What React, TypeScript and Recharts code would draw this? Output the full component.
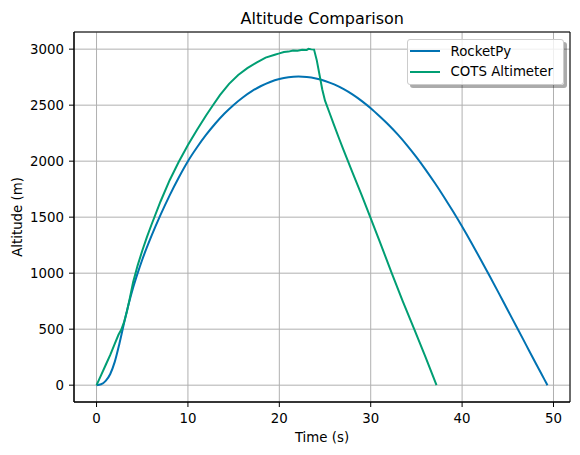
import { CartesianGrid, Legend, Line, LineChart, ReferenceArea, XAxis, YAxis } from "recharts";

// Simulated flight (RocketPy)
const rocketpyTime = [
  0, 0.5, 1, 1.5, 2, 2.5, 3, 3.5, 4, 4.5, 5, 6, 7, 8, 9, 10, 11, 12, 13, 14, 15, 16, 17, 18, 19, 20, 21,
  22.1, 23, 24, 25, 26, 27, 28, 29, 30, 31, 32, 33, 34, 35, 36, 37, 38, 39, 40, 41, 42, 43, 44, 45, 46,
  47, 48, 49, 49.34,
];
const rocketpyAltitude = [
  0, 8, 38, 100, 210, 370, 550, 720, 870, 1000, 1120, 1330, 1520, 1695, 1855, 2000, 2124, 2236, 2336,
  2425, 2502, 2569, 2625, 2671, 2707, 2733, 2749, 2755, 2751, 2738, 2716, 2685, 2645, 2596, 2538, 2472,
  2398, 2320, 2234, 2139, 2036, 1925, 1807, 1683, 1552, 1416, 1274, 1127, 977, 824, 669, 515, 360, 205,
  52, 0,
];

// Logged flight (COTS altimeter)
const cotsTime = [
  0, 0.5, 1, 1.5, 2, 2.4, 2.7, 3, 3.3, 3.6, 4, 4.5, 5, 5.5, 6, 7, 8, 9, 10, 11, 12, 12.7, 13.5, 14.5,
  15.5, 16.5, 17.5, 18.5, 19.5, 20, 20.5, 21, 21.5, 22, 22.5, 23, 23.2, 23.5, 23.8, 24.1, 24.4, 24.7, 25,
  25.5, 26, 26.55, 27, 28, 29, 29.95, 31, 32.3, 33.5, 34.76, 36, 37.2,
];
const cotsAltitude = [
  0, 90, 180, 270, 370, 450, 495, 560, 650, 760, 920, 1070, 1200, 1320, 1430, 1640, 1830, 1995, 2145,
  2280, 2410, 2495, 2590, 2690, 2770, 2830, 2880, 2925, 2950, 2962, 2975, 2978, 2988, 2985, 2995, 2993,
  3003, 2998, 2996, 2900, 2770, 2640, 2540, 2430, 2320, 2200, 2105, 1900, 1700, 1500, 1280, 1000, 750,
  500, 250, 0,
];

const seriesNames = ["RocketPy", "COTS Altimeter"];
const seriesColors = ["#0072B2", "#009E73"];

const xTicks = [0, 10, 20, 30, 40, 50];
const yTicks = [0, 500, 1000, 1500, 2000, 2500, 3000];

const FONT = "'DejaVu Sans', sans-serif";

const rocketpy = rocketpyTime.map((t, i) => ({ t, alt: rocketpyAltitude[i] }));
const cots = cotsTime.map((t, i) => ({ t, alt: cotsAltitude[i] }));

// 5% padding around the data range, matplotlib style
function padded(values: number[]): [number, number] {
  const lo = Math.min(...values);
  const hi = Math.max(...values);
  const m = (hi - lo) * 0.05;
  return [lo - m, hi + m];
}
const xDomain = padded([...rocketpyTime, ...cotsTime]);
const yDomain = padded([...rocketpyAltitude, ...cotsAltitude]);

const tickStyle = { fill: "#000", fontSize: 13.33, fontFamily: FONT };

function renderXLabel(props: any) {
  const { viewBox } = props;
  return (
    <text x={viewBox.x + viewBox.width / 2} y={viewBox.y + 40} textAnchor="middle" fill="#000"
      fontSize={13.33} fontFamily={FONT}>
      Time (s)
    </text>
  );
}

function renderYLabel(props: any) {
  const { viewBox } = props;
  const x = viewBox.x + 21.5;
  const y = viewBox.y + viewBox.height / 2;
  return (
    <text x={x} y={y} transform={`rotate(-90, ${x}, ${y})`} textAnchor="middle" fill="#000"
      fontSize={13.33} fontFamily={FONT}>
      Altitude (m)
    </text>
  );
}

function LegendBox() {
  return (
    <div
      style={{
        position: "relative",
        width: "100%",
        height: "100%",
        boxSizing: "border-box",
        background: "rgba(255,255,255,0.8)",
        border: "1px solid #cccccc",
        borderRadius: 3,
        boxShadow: "3px 3px 0 rgba(0,0,0,0.33)",
        fontFamily: FONT,
        fontSize: 13.33,
        color: "#000",
      }}
    >
      {seriesNames.map((name, i) => (
        <div
          key={name}
          style={{ position: "absolute", left: 2, top: 3 + i * 20.7, height: 16, display: "flex", alignItems: "center" }}
        >
          <svg width={30} height={4} style={{ display: "block" }}>
            <line x1={0} y1={2} x2={30} y2={2} stroke={seriesColors[i]} strokeWidth={2} />
          </svg>
          <span style={{ marginLeft: 10.5, whiteSpace: "nowrap" }}>{name}</span>
        </div>
      ))}
    </div>
  );
}

export default function App() {
  return (
    <div style={{ position: "absolute", left: 0, top: 0, width: 580, height: 455, background: "#fff" }}>
      <svg width={580} height={30} style={{ position: "absolute", left: 0, top: 0 }}>
        <text x={322.3} y={24} textAnchor="middle" fontSize={16} fontFamily={FONT} fill="#000">
          Altitude Comparison
        </text>
      </svg>
      <LineChart width={580} height={455} margin={{ top: 32, right: 10, bottom: 0, left: 0 }}>
        <CartesianGrid stroke="#b0b0b0" strokeWidth={1} />
        <XAxis
          type="number"
          dataKey="t"
          domain={xDomain}
          ticks={xTicks}
          allowDataOverflow
          height={53}
          tick={tickStyle}
          tickSize={5}
          tickMargin={7}
          tickLine={{ stroke: "#000" }}
          axisLine={{ stroke: "#000" }}
          label={renderXLabel}
        />
        <YAxis
          type="number"
          dataKey="alt"
          domain={yDomain}
          ticks={yTicks}
          allowDataOverflow
          width={74}
          tick={tickStyle}
          tickSize={5}
          tickMargin={5}
          tickLine={{ stroke: "#000" }}
          axisLine={{ stroke: "#000" }}
          label={renderYLabel}
        />
        <Line
          data={rocketpy}
          dataKey="alt"
          name={seriesNames[0]}
          type="monotone"
          stroke={seriesColors[0]}
          strokeWidth={2}
          dot={false}
          isAnimationActive={false}
        />
        <Line
          data={cots}
          dataKey="alt"
          name={seriesNames[1]}
          type="linear"
          stroke={seriesColors[1]}
          strokeWidth={2}
          dot={false}
          isAnimationActive={false}
        />
        <ReferenceArea
          x1={xDomain[0]}
          x2={xDomain[1]}
          y1={yDomain[0]}
          y2={yDomain[1]}
          fill="none"
          stroke="#000"
          strokeWidth={1}
          ifOverflow="extendDomain"
        />
        <Legend
          layout="horizontal"
          verticalAlign="middle"
          align="center"
          wrapperStyle={{ left: 407, top: 39, width: 157, height: 46 }}
          content={() => <LegendBox />}
        />
      </LineChart>
    </div>
  );
}
